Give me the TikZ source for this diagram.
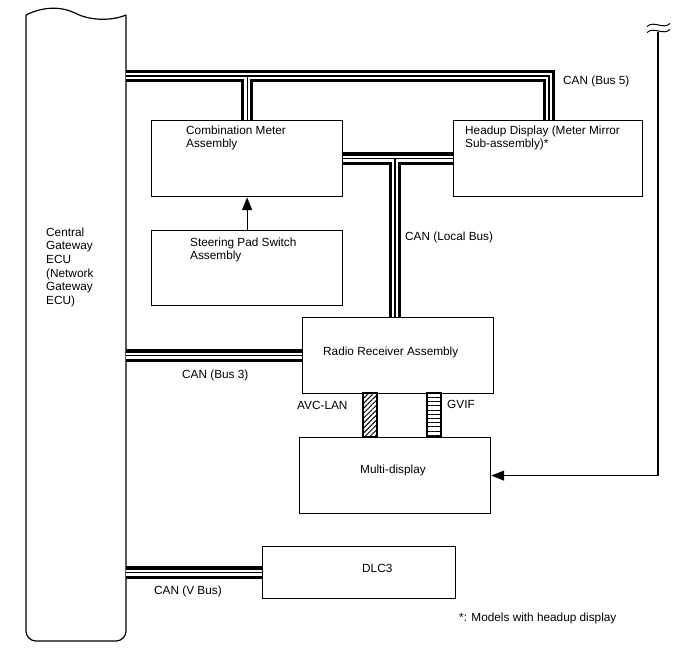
\documentclass[tikz,border=0pt]{standalone}
\usepackage{fontspec}
\setmainfont{Liberation Sans}
\usetikzlibrary{arrows.meta, positioning, calc, patterns.meta}

\tikzset{
  unit/.style={draw, line width=1.2pt, minimum width=191pt, minimum height=76pt,
    anchor=north west, inner sep=0pt},
  plug/.style={draw, line width=1.2pt, minimum width=14pt, minimum height=44pt, inner sep=0pt},
  lbl/.style={anchor=north west, inner sep=0pt, align=left,
    font=\fontsize{11.8}{13.6}\selectfont},
  busouter/.style={line width=12.5pt, black},
  businner/.style={line width=6pt, white},
  buscore/.style={line width=1.2pt, black},
  link/.style={line width=1.2pt, -{Triangle[length=13pt,width=10pt]}},
}

% all bus runs, drawn once per layer so the junctions merge
\newcommand\busruns[1]{%
  \draw[#1] (gw.east |- b5) -- (b5) -- (b5 |- hud.north);
  \draw[#1] (cm.north |- b5) -- (cm.north);
  \draw[#1] (cm.east) -- (hud.west);
  \draw[#1] (lb) -- (lb |- rr.north);
  \draw[#1] (gw.east |- rr.west) -- (rr.west);
  \draw[#1] (gw.east |- dlc.west) -- (dlc.west);
}

\begin{document}
\begin{tikzpicture}[x=1pt, y=-1pt]
  \useasboundingbox (0,0) rectangle (688,658);

  % Gateway
  \node[minimum width=100pt, minimum height=626pt, anchor=north west,
    inner sep=0pt, outer sep=0pt] (gw) at (26,15) {};
  \draw[line width=1.2pt, rounded corners=10pt]
    (gw.north west) -- (gw.south west) -- (gw.south east) -- (gw.north east);
  \draw[line width=1.2pt] (gw.north west) .. controls (40,8) and (58,5) .. (75,13)
    .. controls (90,21) and (112,21) .. (gw.north east);

  % Units
  \node[unit] (cm) at (151,120) {};
  \node[unit, minimum width=189pt] (hud) at (453,120) {};
  \node[unit, minimum height=75pt] (sps) at (151,230) {};
  \node[unit] (rr) at (302,317) {};
  \node[unit] (md) at (299,437) {};
  \node[unit, minimum width=193pt, minimum height=52pt] (dlc) at (262,546) {};

  % AVC-LAN and GVIF links
  \node[plug, pattern={Lines[angle=45, distance=3.5pt, line width=1pt]}] (avc) at (370,415) {};
  \node[plug, pattern={Lines[angle=0, distance=4.2pt, line width=1pt]}] (gvif) at (434,415) {};

  % Bus junction points
  \coordinate (b5) at (549,76);
  \coordinate (lb) at (395,158);

  % Buses
  \busruns{busouter}
  \busruns{businner}
  \busruns{buscore}

  % Steering pad switch to meter
  \draw[link] (sps.north) -- (cm.south);

  % Line from outside the figure to multi-display
  \coordinate (ext) at (658,32);
  \draw[link] (ext) -- (ext |- md.east) -- (md.east);
  \foreach \y in {25,31}
    \draw[line width=1pt] (647,\y+1.5) .. controls (654,\y-5) and (663,\y+5) .. (670,\y-1.5);

  % Labels
  \node[lbl] at (46,227.5) {Central\\Gateway\\ECU\\(Network\\Gateway\\ECU)};
  \node[lbl] at (186,125.5) {Combination Meter\\Assembly};
  \node[lbl] at (465,125.5) {Headup Display (Meter Mirror\\Sub-assembly)*};
  \node[lbl] at (190,237.5) {Steering Pad Switch\\Assembly};
  \node[lbl] at (563,75.5) {CAN (Bus 5)};
  \node[lbl] at (405,231.5) {CAN (Local Bus)};
  \node[lbl] at (323,346.5) {Radio Receiver Assembly};
  \node[lbl] at (182,369.5) {CAN (Bus 3)};
  \node[lbl] at (297,401.5) {AVC-LAN};
  \node[lbl] at (447,400.5) {GVIF};
  \node[lbl] at (360,464.5) {Multi-display};
  \node[lbl] at (362,564.5) {DLC3};
  \node[lbl] at (154,585.5) {CAN (V Bus)};
  \node[lbl] at (459,612.5) {*: Models with headup display};
\end{tikzpicture}
\end{document}
